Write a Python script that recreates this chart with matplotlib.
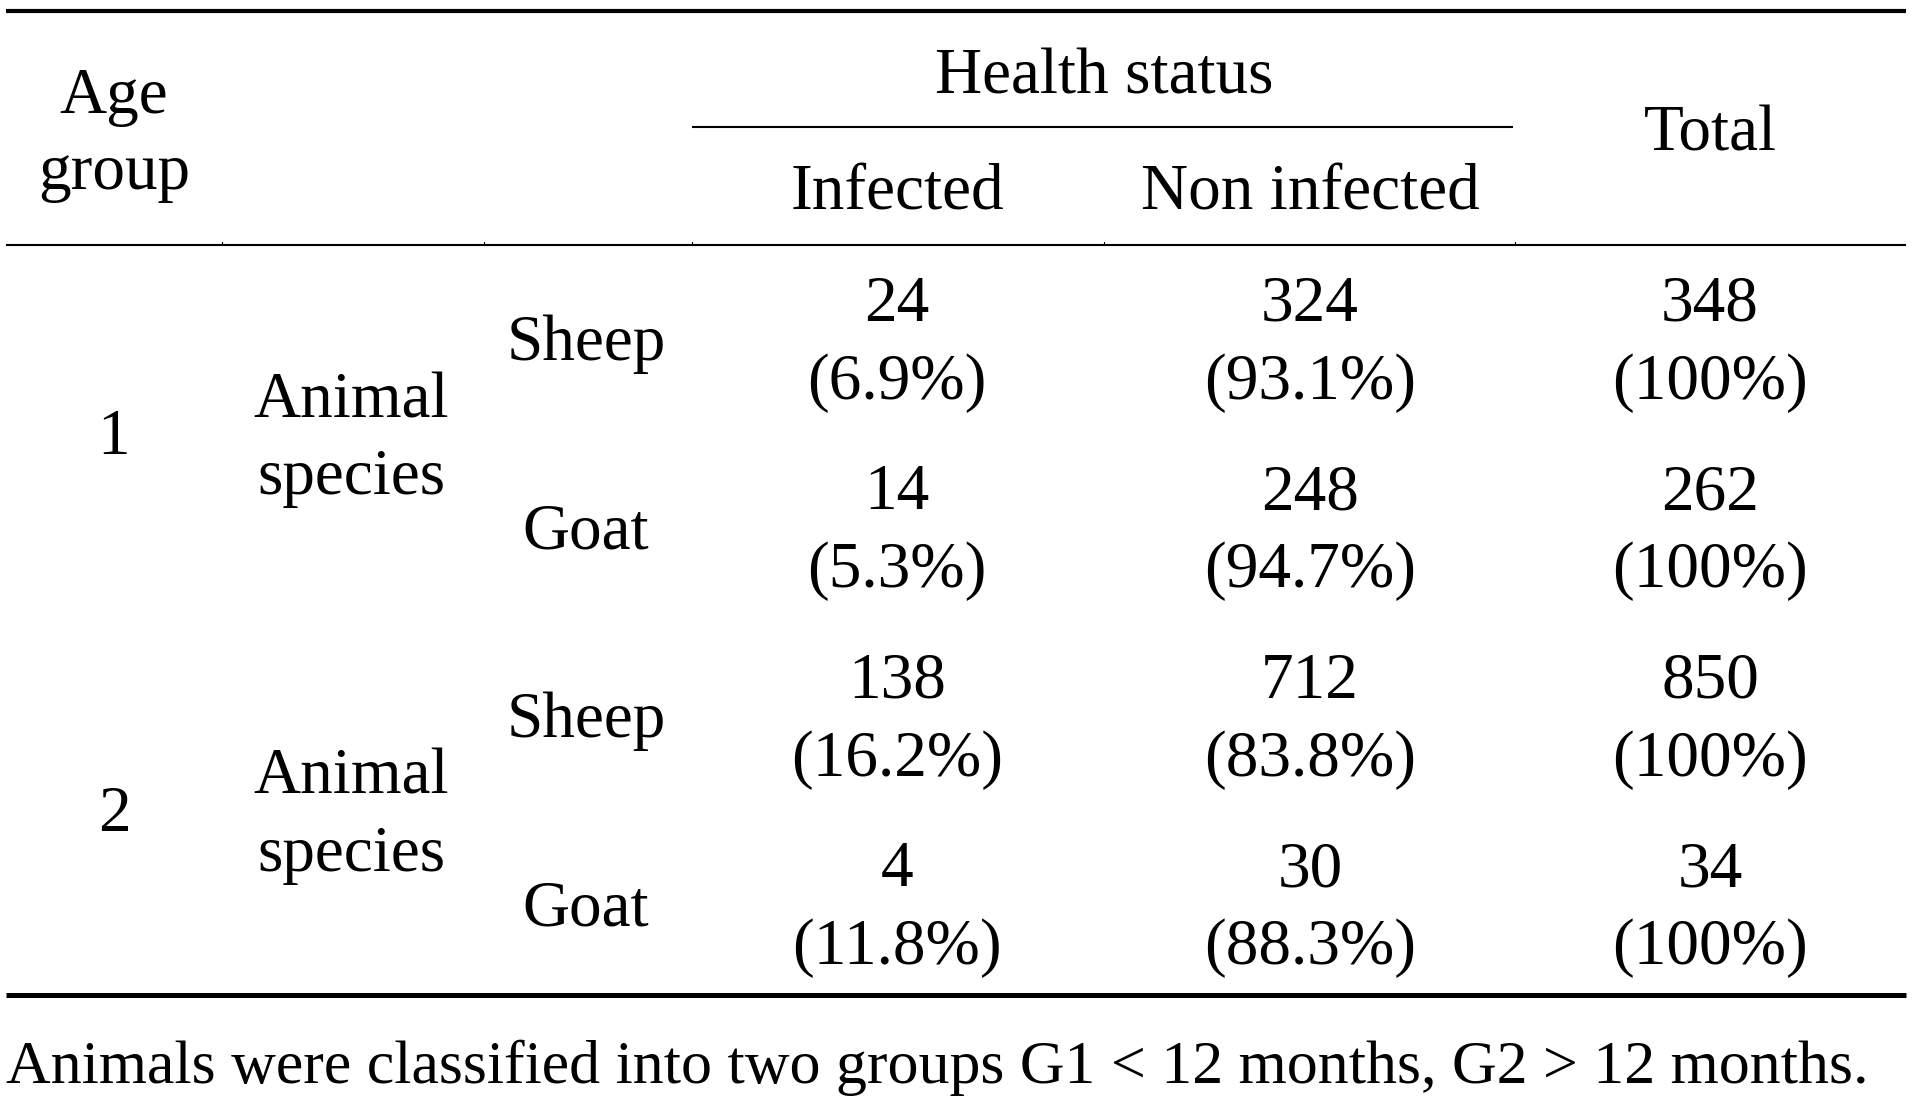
import numpy as np
import matplotlib.pyplot as plt

# table contents
age_groups = ["1", "2"]
species = ["Sheep", "Goat", "Sheep", "Goat"]
infected = [24, 14, 138, 4]
infected_pct = ["6.9%", "5.3%", "16.2%", "11.8%"]
non_infected = [324, 248, 712, 30]
non_infected_pct = ["93.1%", "94.7%", "83.8%", "88.3%"]
totals = [348, 262, 850, 34]
total_pct = ["100%", "100%", "100%", "100%"]
footnote = "Animals were classified into two groups G1 < 12 months, G2 > 12 months."

W, H = 1918, 1101
fig = plt.figure(figsize=(W / 100, H / 100), dpi=100)
ax = fig.add_axes([0, 0, 1, 1])
ax.set_xlim(0, W)
ax.set_ylim(H, 0)
ax.axis("off")

font = dict(family="Liberation Serif", fontsize=47, color="black",
            ha="center", va="center")

# column centres (pixels)
x_age, x_animal, x_species = 114, 351, 586
x_inf, x_non, x_tot = 897, 1310, 1710

# rules
ax.plot([6, 1906], [11, 11], color="black", lw=3.0, solid_capstyle="butt")
ax.plot([692, 1513], [127, 127], color="black", lw=1.5, solid_capstyle="butt")
ax.plot([6, 1906], [245, 245], color="black", lw=1.5, solid_capstyle="butt")
ax.plot([6, 1906], [995, 995], color="black", lw=3.6, solid_capstyle="butt")
for bx in [222, 484, 692, 1104, 1515]:
    ax.plot([bx, bx], [242, 245], color="black", lw=0.8)

# header
ax.text(x_age, 97, "Age", **font)
ax.text(x_age, 173, "group", **font)
ax.text(1104, 78, "Health status", **font)
ax.text(x_inf, 194, "Infected", **font)
ax.text(x_non, 194, "Non infected", **font)
ax.text(x_tot, 135, "Total", **font)

# body
row_top = 305      # first number line of row 0
row_step = 188.5   # distance between rows
pct_gap = 78
for i in range(len(species)):
    y1 = row_top + i * row_step
    y2 = y1 + pct_gap
    ym = (y1 + y2) / 2
    ax.text(x_species, ym, species[i], **font)
    ax.text(x_inf, y1, str(infected[i]), **font)
    ax.text(x_inf, y2, "(" + infected_pct[i] + ")", **font)
    ax.text(x_non, y1, str(non_infected[i]), **font)
    ax.text(x_non, y2, "(" + non_infected_pct[i] + ")", **font)
    ax.text(x_tot, y1, str(totals[i]), **font)
    ax.text(x_tot, y2, "(" + total_pct[i] + ")", **font)

for g, label in enumerate(age_groups):
    yc = row_top + (2 * g + 0.5) * row_step + pct_gap / 2
    ax.text(x_age, yc, label, **font)
    ax.text(x_animal, yc - 37, "Animal", **font)
    ax.text(x_animal, yc + 40, "species", **font)

ax.text(6, 1068, footnote, **dict(font, ha="left", fontsize=44.6))

fig.savefig("out.png", dpi=100)
